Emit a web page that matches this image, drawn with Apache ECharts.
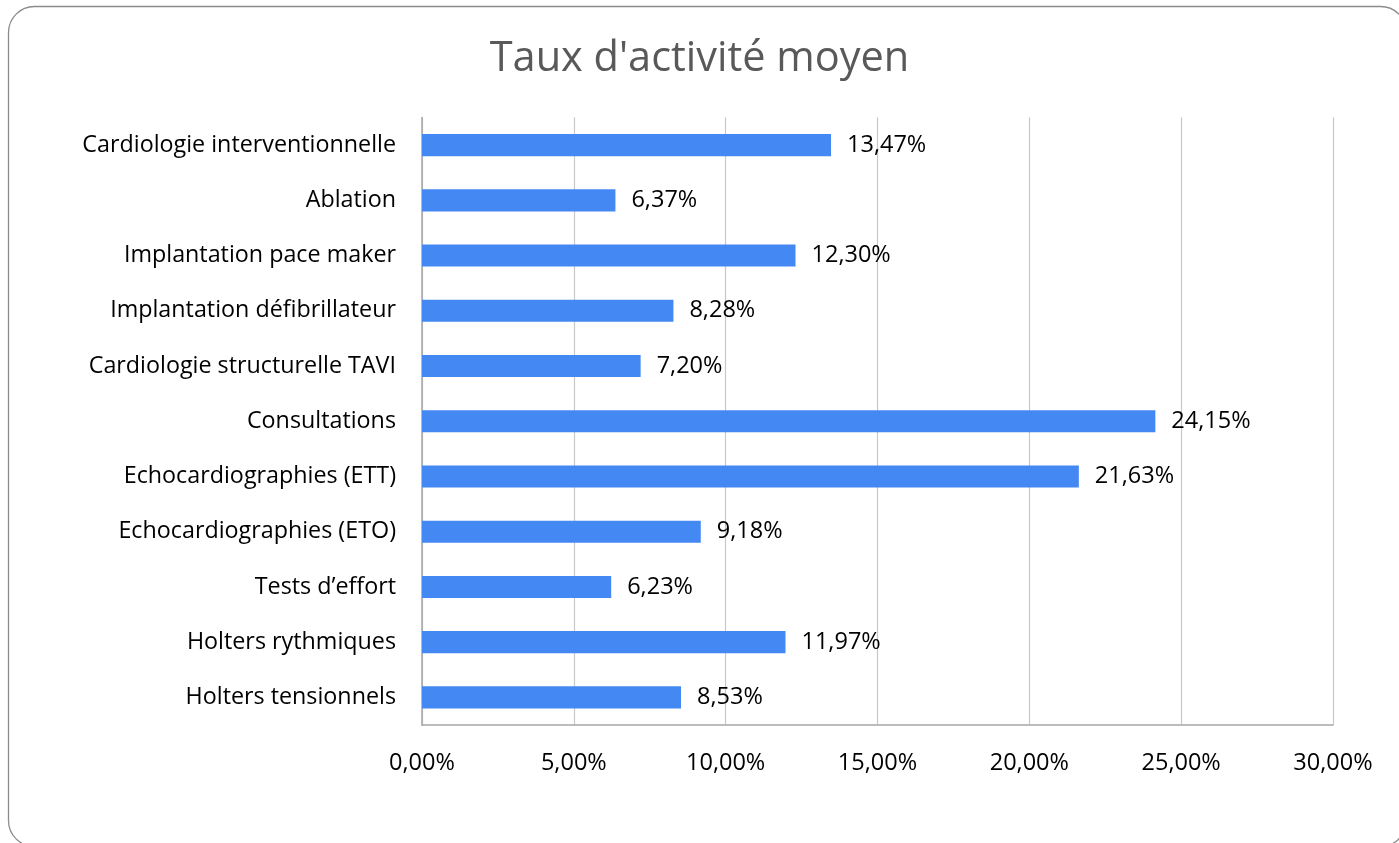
<!DOCTYPE html>
<html><head><meta charset="utf-8">
<script src="https://cdn.jsdelivr.net/npm/echarts@6/dist/echarts.min.js"></script>
<style>html,body{margin:0;padding:0;background:#fff}#c{width:1399px;height:843px}</style>
</head><body><div id="c"></div>
<script>
const categories = ["Cardiologie interventionnelle","Ablation","Implantation pace maker","Implantation défibrillateur","Cardiologie structurelle TAVI","Consultations","Echocardiographies (ETT)","Echocardiographies (ETO)","Tests d’effort","Holters rythmiques","Holters tensionnels"];
const values = [13.47, 6.37, 12.30, 8.28, 7.20, 24.15, 21.63, 9.18, 6.23, 11.97, 8.53];
const titleText = "Taux d'activité moyen";
const FONT = "'Open Sans', 'Noto Sans', sans-serif";
const fmt = v => v.toFixed(2).replace('.', ',') + '%';
const chart = echarts.init(document.getElementById('c'));
chart.setOption({
  animation:false,
  graphic:[{type:'rect',shape:{x:8.5,y:6.5,width:1398,height:840,r:26},style:{fill:'none',stroke:'#8c8c8c',lineWidth:1.3},z:-1}],
  title:{text:titleText,left:'center',top:33,textStyle:{fontFamily:FONT,fontSize:41.5,fontWeight:'normal',color:'#595959'}},
  grid:{left:422,right:66,top:117.5,bottom:118,containLabel:false},
  xAxis:{type:'value',min:0,max:30,interval:5,
    axisLine:{show:true,lineStyle:{color:'#a6a6a6',width:1.5}},axisTick:{show:false},
    splitLine:{lineStyle:{color:'#c8c8c8',width:1.2}},
    axisLabel:{formatter:fmt,margin:26,fontFamily:FONT,fontSize:23.5,color:'#000'}},
  yAxis:{type:'category',data:categories,inverse:true,
    axisLine:{show:true,lineStyle:{color:'#a6a6a6',width:1.5}},axisTick:{show:false},
    axisLabel:{margin:26,fontFamily:FONT,fontSize:23.3,color:'#000',padding:[4,0,0,0]}},
  series:[{type:'bar',data:values,barWidth:'40%',itemStyle:{color:'#4488f4'},
    label:{show:true,position:'right',distance:16,formatter:p=>fmt(p.value),fontFamily:FONT,fontSize:23.5,color:'#000',padding:[4,0,0,0]}}]
});
</script></body></html>
